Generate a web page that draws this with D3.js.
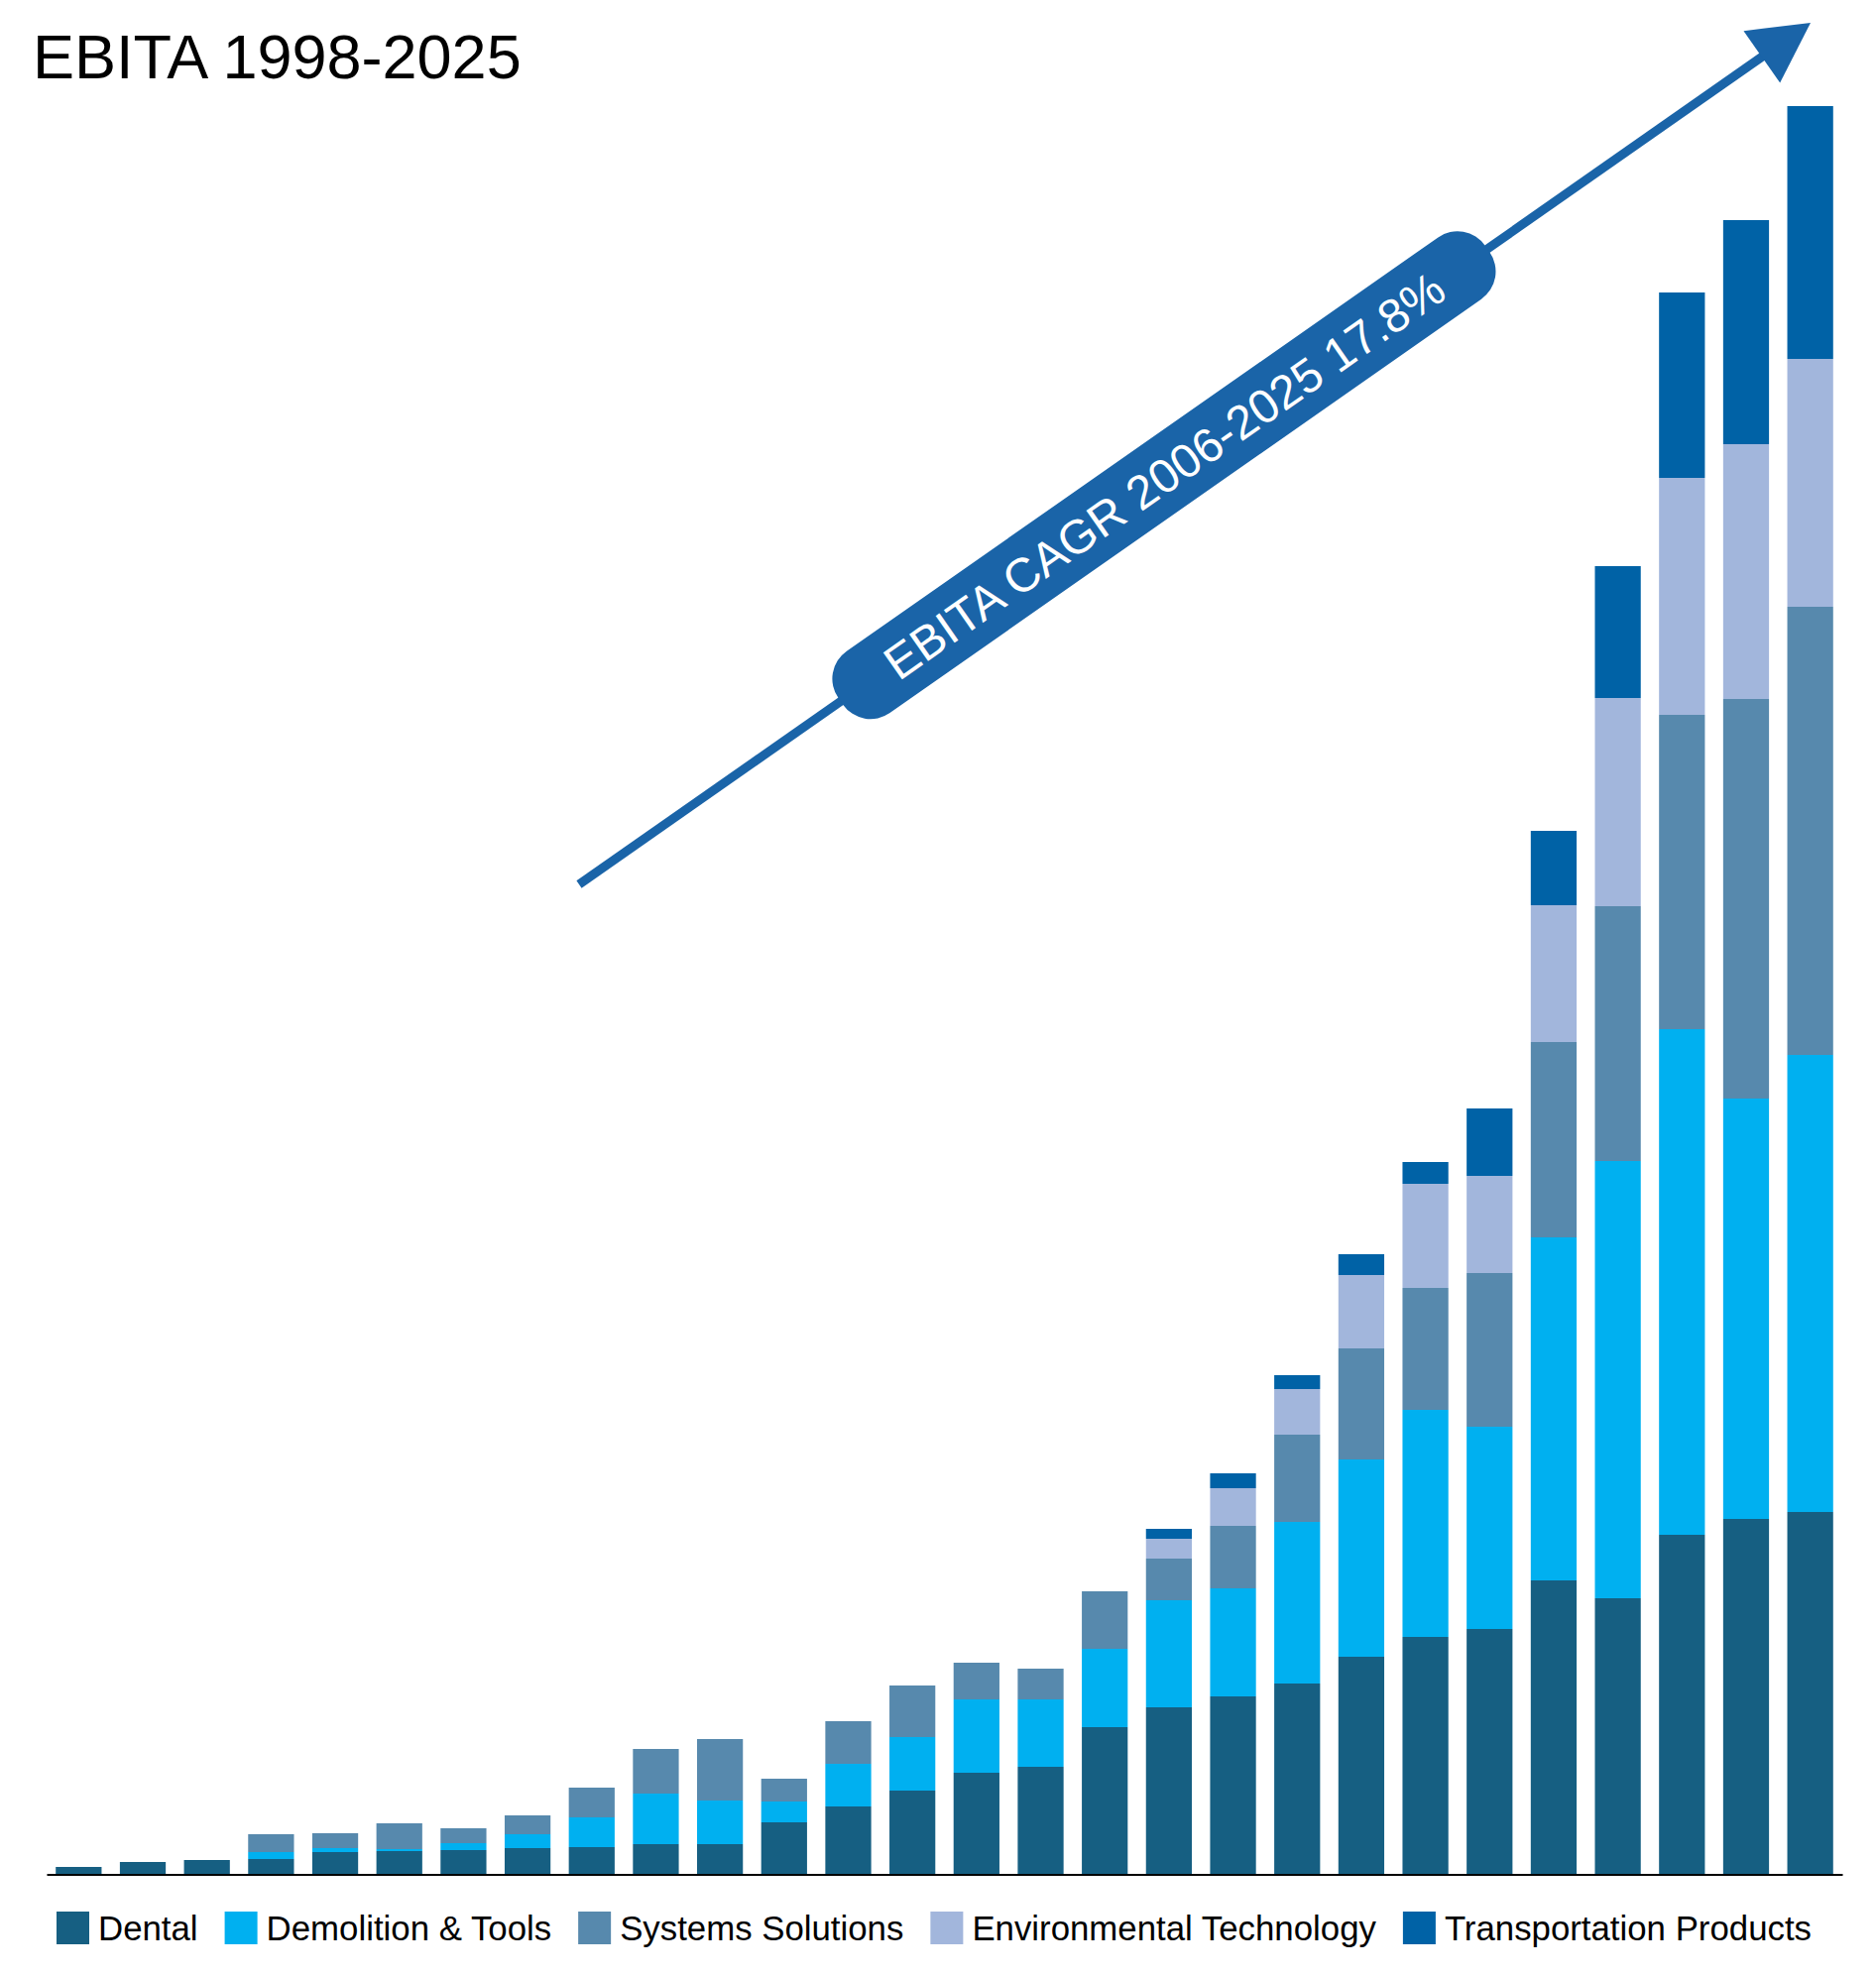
<!DOCTYPE html>
<head>
    <meta charset="utf-8">
    <script src="https://d3js.org/d3.v7.min.js"></script>
    <style>
        body { margin: 0; background: #fff; }
        text { font-family: "Liberation Sans", Arial, Helvetica, sans-serif; }
    </style>
</head>

<body>
    <div id="ebita"></div>
</body>

<script>
    const years = d3.range(1998, 2026);

    const segments = ["Dental", "Demolition & Tools", "Systems Solutions",
                      "Environmental Technology", "Transportation Products"];

    // values (estimated units)
    const dental = [3.5, 6, 7, 7.5, 11, 11.5, 12, 13, 13.5, 15, 15, 26, 34, 42,
                    51, 54, 74, 84, 89.5, 96, 109.5, 119.5, 123.5, 148, 139, 171, 179, 182.5];
    const demolition = [0, 0, 0, 3.5, 2, 1, 3.5, 7, 15, 25.5, 22, 10.5, 21.5, 27,
                    37, 34, 39.5, 54, 54.5, 81.5, 99.5, 114.5, 102, 173, 220.5, 255, 212, 230.5];
    const systems = [0, 0, 0, 9, 7.5, 13, 7.5, 9.5, 15, 22.5, 31, 11.5, 21.5, 26,
                    18.5, 15.5, 29, 21, 31.5, 44, 56, 61.5, 77.5, 98.5, 128.5, 158.5, 201.5, 226];
    const environmental = [0, 0, 0, 0, 0, 0, 0, 0, 0, 0, 0, 0, 0, 0,
                    0, 0, 0, 10, 19, 23, 37, 52.5, 49, 69, 105, 119.5, 128.5, 125];
    const transportation = [0, 0, 0, 0, 0, 0, 0, 0, 0, 0, 0, 0, 0, 0,
                    0, 0, 0, 5, 7.5, 7, 10.5, 11, 34, 37.5, 66.5, 93.5, 113, 127.5];

    const colors = ["#165f82", "#00b0f0", "#5789ad", "#a2b6dc", "#0062a6"];

    const title = "EBITA 1998-2025";
    const cagrLabel = "EBITA CAGR 2006-2025 17.8%";

    const W = 1892, H = 1993;
    const margin = {top: 107, right: 34, bottom: 103, left: 47};

    const data = years.map((yr, i) => ({
        year: yr,
        "Dental": dental[i],
        "Demolition & Tools": demolition[i],
        "Systems Solutions": systems[i],
        "Environmental Technology": environmental[i],
        "Transportation Products": transportation[i]
    }));

    const stacked = d3.stack().keys(segments)(data);
    const totals = data.map(d => segments.reduce((s, k) => s + d[k], 0));

    const svg = d3.select("#ebita")
        .append("svg")
        .attr("width", W)
        .attr("height", H);

    svg.append("rect").attr("width", W).attr("height", H).attr("fill", "#fff");

    const x = d3.scaleBand()
        .domain(years)
        .range([margin.left, W - margin.right])
        .paddingInner(0.285)
        .paddingOuter(0.1425);

    const y = d3.scaleLinear()
        .domain([0, d3.max(totals)])
        .range([H - margin.bottom, margin.top]);

    const color = d3.scaleOrdinal().domain(segments).range(colors);

    // bars
    svg.append("g")
        .selectAll("g")
        .data(stacked)
        .join("g")
        .attr("fill", d => color(d.key))
        .selectAll("rect")
        .data(d => d.filter(s => s[1] - s[0] > 0))
        .join("rect")
        .attr("x", d => x(d.data.year))
        .attr("y", d => y(d[1]))
        .attr("width", x.bandwidth())
        .attr("height", d => y(d[0]) - y(d[1]));

    // baseline
    const axis = svg.append("g")
        .attr("transform", `translate(0, ${y(0) + 0.5})`)
        .call(d3.axisBottom(x).tickSize(0).tickSizeOuter(0).tickFormat(""));
    axis.select(".domain").attr("stroke", "#000").attr("stroke-width", 2);

    // title
    svg.append("text")
        .attr("x", 33)
        .attr("y", 79)
        .attr("font-size", 63)
        .attr("fill", "#000")
        .text(title);

    // CAGR arrow
    const a0 = [584, 892], a1 = [1826, 23];
    const len = Math.hypot(a1[0] - a0[0], a1[1] - a0[1]);
    const ang = Math.atan2(a1[1] - a0[1], a1[0] - a0[0]) * 180 / Math.PI;
    const arrowBlue = "#1a64a8";
    const headLen = 60, headHalf = 32;

    const arrow = svg.append("g")
        .attr("transform", `translate(${a0[0]},${a0[1]}) rotate(${ang})`);

    arrow.append("line")
        .attr("x1", 0).attr("y1", 0)
        .attr("x2", len - headLen + 2).attr("y2", 0)
        .attr("stroke", arrowBlue)
        .attr("stroke-width", 9);

    arrow.append("path")
        .attr("d", `M${len},0 L${len - headLen},${-headHalf} L${len - headLen},${headHalf} Z`)
        .attr("fill", arrowBlue);

    const pillStart = 322, pillEnd = 1118, pillH = 76;
    arrow.append("rect")
        .attr("x", pillStart)
        .attr("y", -pillH / 2)
        .attr("width", pillEnd - pillStart)
        .attr("height", pillH)
        .attr("rx", 34)
        .attr("fill", arrowBlue);

    arrow.append("text")
        .attr("x", (pillStart + pillEnd) / 2)
        .attr("y", 0)
        .attr("dy", "0.36em")
        .attr("text-anchor", "middle")
        .attr("font-size", 48)
        .attr("fill", "#fff")
        .text(cagrLabel);

    // legend
    const legend = svg.append("g").attr("transform", `translate(57, 1928)`);
    let lx = 0;
    segments.forEach((s, i) => {
        const g = legend.append("g").attr("transform", `translate(${lx},0)`);
        g.append("rect")
            .attr("width", 33).attr("height", 33)
            .attr("fill", color(s));
        const t = g.append("text")
            .attr("x", 42)
            .attr("y", 29)
            .attr("font-size", 34.8)
            .attr("fill", "#000")
            .text(s);
        lx += 42 + t.node().getComputedTextLength() + 27;
    });
</script>
</html>
